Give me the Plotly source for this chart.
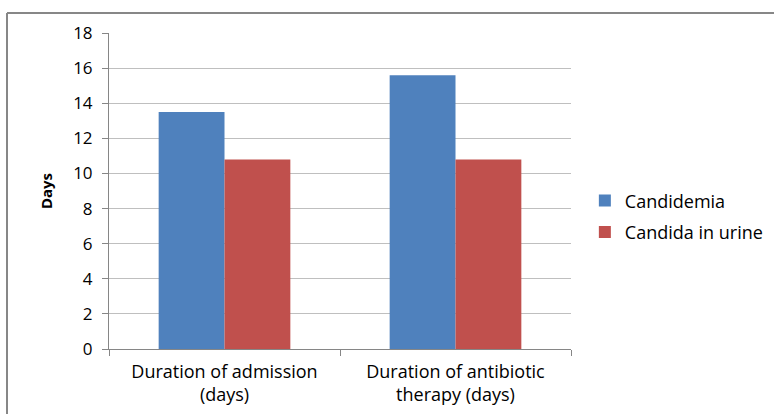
import plotly.graph_objects as go

categories = ["Duration of admission<br>(days)", "Duration of antibiotic<br>therapy (days)"]
candidemia = [13.5, 15.6]
candida_urine = [10.8, 10.8]
y_ticks = list(range(0, 20, 2))

FONT = "Open Sans"
W, H = 774, 414
L, R, T, B = 109, 203, 33, 65
pw, ph = W - L - R, H - T - B

fig = go.Figure()
fig.add_trace(go.Bar(name="Candidemia", x=categories, y=candidemia, legendgroup="a",
                     marker=dict(color="#4f81bd", line=dict(width=0))))
fig.add_trace(go.Bar(name="Candida in urine", x=categories, y=candida_urine, legendgroup="b",
                     marker=dict(color="#c0504d", line=dict(width=0))))

# outer chart border (left and top edges visible)
bx = (7 - L) / pw
by = 1 + (T - 13) / ph
fig.add_shape(type="line", xref="paper", yref="paper", x0=bx, x1=bx, y0=-0.3, y1=by,
              line=dict(color="#878787", width=2))
fig.add_shape(type="line", xref="paper", yref="paper", x0=bx, x1=(W + 5 - L) / pw, y0=by, y1=by,
              line=dict(color="#878787", width=2))

fig.update_layout(
    width=W, height=H,
    margin=dict(l=L, r=R, t=T, b=B, autoexpand=False),
    paper_bgcolor="white", plot_bgcolor="white",
    barmode="group", bargap=0.43, bargroupgap=0,
    font=dict(family=FONT, size=17, color="#000000"),
    legend=dict(x=1.03, y=0.42, xanchor="left", yanchor="middle",
                font=dict(family=FONT, size=18), itemwidth=30,
                traceorder="grouped", tracegroupgap=5,
                bgcolor="rgba(0,0,0,0)"),
    xaxis=dict(showline=True, linecolor="#868686", linewidth=1, automargin=False,
               ticks="outside", ticklen=6, tickcolor="#868686", tickson="boundaries",
               ticklabelstandoff=6,
               tickfont=dict(family=FONT, size=18)),
    yaxis=dict(range=[0, 18], tickvals=y_ticks, showline=True, linecolor="#868686", linewidth=1,
               automargin=False,
               ticks="outside", ticklen=6, tickcolor="#868686",
               gridcolor="#bfbfbf", gridwidth=1, zeroline=False,
               ticklabelstandoff=6,
               tickfont=dict(family=FONT, size=17),
               title=dict(text="<b>Days</b>", font=dict(family=FONT, size=15), standoff=16)),
)

fig.write_html("out.html", config={"displayModeBar": False},
               post_script="document.body.style.margin='0';")
